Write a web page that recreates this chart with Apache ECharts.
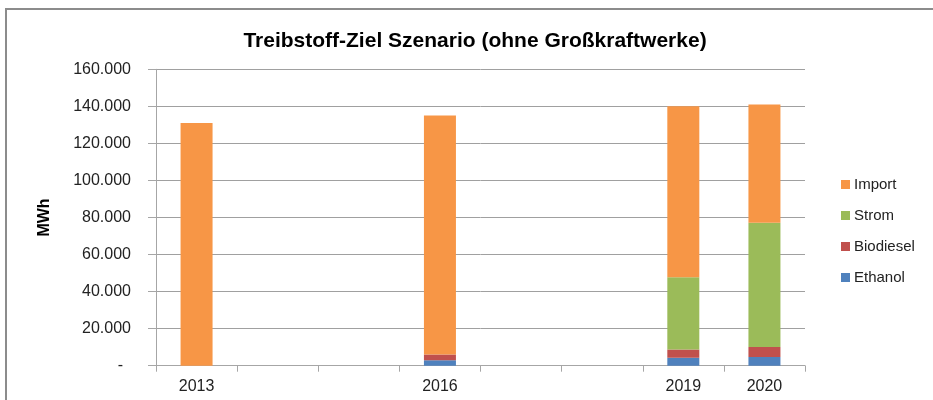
<!DOCTYPE html>
<html>
<head>
<meta charset="utf-8">
<script src="https://cdn.jsdelivr.net/npm/echarts@6/dist/echarts.min.js"></script>
<style>
  html, body { margin: 0; padding: 0; background: #fff; }
  #chart { width: 933px; height: 400px; }
</style>
</head>
<body>
<div id="chart"></div>
<script>
// Years on the category axis; only some of them carry values and labels
const years = ['2013', '2014', '2015', '2016', '2017', '2018', '2019', '2020'];
const labelledYears = ['2013', '2016', '2019', '2020'];

// Energy per source in MWh (null = no value for that year)
const ethanol   = [null, null, null,   3000, null, null,  4300,  4700];
const biodiesel = [null, null, null,   3100, null, null,  4500,  5400];
const strom     = [null, null, null,   null, null, null, 39000, 67000];
const importe   = [131000, null, null, 128900, null, null, 92200, 63900];

// Value-axis ticks
const yMin = 0, yMax = 160000, yStep = 20000;

const FONT = 'Liberation Sans';
const colors = {
  Ethanol: '#4F81BD',
  Biodiesel: '#C0504D',
  Strom: '#9BBB59',
  Import: '#F79646'
};

function fmtThousands(v) {
  if (v === 0) return '{d|-}';
  return String(v).replace(/\B(?=(\d{3})+(?!\d))/g, '.');
}

function barSeries(name, values) {
  return {
    name: name,
    type: 'bar',
    stack: 'total',
    barWidth: 32,
    data: values,
    itemStyle: { color: colors[name] },
    emphasis: { disabled: true }
  };
}

const chart = echarts.init(document.getElementById('chart'), null, { renderer: 'canvas' });
chart.setOption({
  animation: false,
  backgroundColor: '#ffffff',
  textStyle: { fontFamily: FONT },
  graphic: [{
    type: 'rect',
    shape: { x: 6, y: 9, width: 1000, height: 500 },
    style: { fill: 'none', stroke: '#8c8c8c', lineWidth: 2 },
    silent: true
  }],
  title: {
    text: 'Treibstoff-Ziel Szenario (ohne Großkraftwerke)',
    left: 470,
    textAlign: 'center',
    top: 26,
    textStyle: { fontFamily: FONT, fontWeight: 'bold', fontSize: 21, color: '#000' }
  },
  legend: {
    orient: 'vertical',
    left: 836,
    top: 172,
    data: ['Import', 'Strom', 'Biodiesel', 'Ethanol'],
    icon: 'rect',
    itemWidth: 9,
    itemHeight: 9,
    itemGap: 16,
    textStyle: { fontFamily: FONT, fontSize: 15, color: '#222', lineHeight: 14, padding: [0, 0, 0, -1] }
  },
  grid: { left: 156, right: 128, top: 69.3, bottom: 34.3, containLabel: false },
  xAxis: {
    type: 'category',
    data: years,
    axisLine: { show: true, lineStyle: { color: '#a6a6a6', width: 1 } },
    axisTick: { show: true, length: 6, interval: 0, lineStyle: { color: '#a6a6a6' } },
    axisLabel: {
      interval: 0,
      margin: 13,
      fontFamily: FONT,
      fontSize: 16,
      color: '#222',
      formatter: function (v) { return labelledYears.indexOf(v) >= 0 ? v : ''; }
    },
    splitLine: { show: false }
  },
  yAxis: {
    type: 'value',
    min: yMin,
    max: yMax,
    interval: yStep,
    name: 'MWh',
    nameLocation: 'middle',
    nameRotate: 90,
    nameGap: 103,
    nameTextStyle: { fontFamily: FONT, fontWeight: 'bold', fontSize: 16, color: '#000' },
    axisLine: { show: true, lineStyle: { color: '#a6a6a6', width: 1 } },
    axisTick: { show: true, length: 8, lineStyle: { color: '#a6a6a6' } },
    axisLabel: {
      margin: 25,
      fontFamily: FONT,
      fontSize: 16,
      color: '#222',
      formatter: fmtThousands,
      rich: { d: { fontFamily: FONT, fontSize: 16, color: '#222', padding: [0, 8, 0, 0] } }
    },
    splitLine: { show: true, lineStyle: { color: '#a0a0a0', width: 1 } }
  },
  series: [
    barSeries('Ethanol', ethanol),
    barSeries('Biodiesel', biodiesel),
    barSeries('Strom', strom),
    barSeries('Import', importe)
  ]
});
</script>
</body>
</html>
